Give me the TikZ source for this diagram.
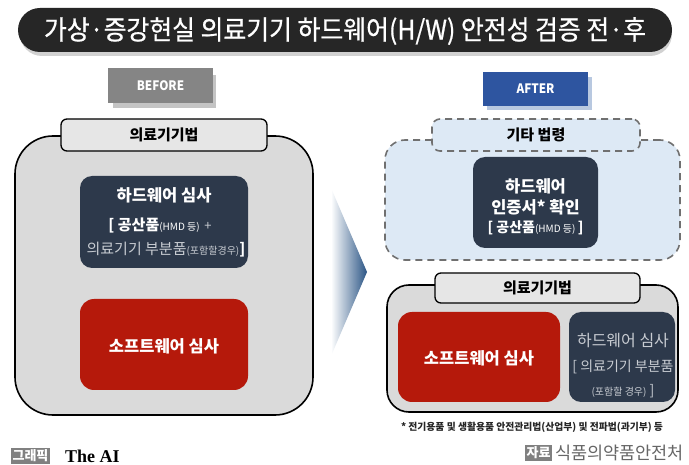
\documentclass[tikz,border=0pt]{standalone}
\usepackage{fontspec}
\setmainfont{Noto Sans CJK KR}
\newfontfamily\aiserif{Liberation Serif}
\newfontfamily\titlefont[FakeBold=0.7]{Noto Sans CJK KR}
\definecolor{titlebg}{HTML}{262626}
\definecolor{beforegray}{HTML}{858585}
\definecolor{beforeshadow}{HTML}{C4C4C4}
\definecolor{afterblue}{HTML}{2E55A0}
\definecolor{aftershadow}{HTML}{B8C8E0}
\definecolor{boxgray}{HTML}{DADADA}
\definecolor{tabgray}{HTML}{E6E6E6}
\definecolor{navy}{HTML}{2D394B}
\definecolor{redbox}{HTML}{B5190B}
\definecolor{lightblue}{HTML}{DDE9F5}
\definecolor{dashgray}{HTML}{707070}
\definecolor{arrowblue}{HTML}{2B5585}
\definecolor{softtext}{HTML}{C8CCD2}
\newcommand{\fs}[1]{\fontsize{#1}{#1}\selectfont}
\tikzset{
  lawbox/.style={draw=black, line width=1.6pt, fill=boxgray, rounded corners=#1},
  lawtab/.style={draw=black, line width=1.3pt, fill=tabgray, rounded corners=6pt, font=\fs{15}\bfseries},
  dashbox/.style={draw=dashgray, line width=1.6pt, dash pattern=on 7pt off 5pt, fill=lightblue, rounded corners=#1},
  navybox/.style={fill=navy, rounded corners=12pt},
  redfill/.style={fill=redbox, rounded corners=14pt},
  wtxt/.style={text=white, font=\fs{16.5}\bfseries, inner sep=0pt},
  stxt/.style={text=softtext, font=\fs{14}, inner sep=0pt},
}
\begin{document}
\begin{tikzpicture}[x=1pt, y=-1pt]
\useasboundingbox (0,0) rectangle (689,465);
\fill[white] (0,0) rectangle (689,465);

% title
\fill[black!18, rounded corners=22pt] (20,12) rectangle (672,56);
\node[fill=titlebg, rounded corners=22pt, minimum width=654pt, minimum height=44pt, inner sep=0pt] (title) at (345,30) {};
\node[text=white, font=\titlefont\fs{27}, inner sep=0pt] (titletext) at (345,31) {\scalebox{0.92}[1]{가상·증강현실 의료기기 하드웨어(H/W) 안전성 검증 전·후}};

% BEFORE
\fill[beforeshadow] (113,75) rectangle (216,108);
\node[fill=beforegray, minimum width=105pt, minimum height=35pt, inner sep=0pt, text=white, font=\fs{13}\bfseries] (before) at (160.5,85.5) {\scalebox{0.9}[1]{BEFORE}};

% AFTER
\fill[aftershadow] (487,77) rectangle (592,110);
\node[fill=afterblue, minimum width=105pt, minimum height=34pt, inner sep=0pt, text=white, font=\fs{13}\bfseries] (after) at (535.5,89) {\scalebox{0.9}[1]{AFTER}};

% left big box
\node[lawbox=38pt, minimum width=298pt, minimum height=279pt] (leftbox) at (164,275.5) {};
\node[lawtab, minimum width=206pt, minimum height=32pt, inner sep=0pt] (lefttab) at (164,135) {의료기기법};
\node[navybox, minimum width=168pt, minimum height=92pt] (lefthw) at (164,222) {};
\node[wtxt] (lefthw1) at (164,195) {하드웨어 심사};
\node[inner sep=0pt, text=white] (lefthw2) at (160,225) {{\fs{15}\bfseries [ 공산품}{\fs{10}(HMD 등)}\ \ {\fs{13}\color{softtext}+}};
\node[inner sep=0pt, text=softtext] (lefthw3) at (166,250) {{\fs{15}의료기기 부분품}{\fs{10}(포함할경우)}{\fs{15}\bfseries\color{white}]}};
\node[redfill, minimum width=168pt, minimum height=91pt] (leftsw) at (164,344.5) {};
\node[wtxt] (leftswt) at (164,346) {소프트웨어 심사};

% arrow
\shade[left color=white, right color=arrowblue] (331,188) -- (367,272) -- (331,356) -- cycle;

% right top dashed region
\node[dashbox=20pt, minimum width=295pt, minimum height=120pt] (other) at (532.5,200) {};
\node[dashbox=8pt, minimum width=208pt, minimum height=32pt, inner sep=0pt, font=\fs{15}\bfseries] (othertab) at (536,135) {기타 법령};
\node[navybox, minimum width=125pt, minimum height=91pt] (cert) at (535.5,202.5) {};
\node[wtxt] (cert1) at (535.5,186) {하드웨어};
\node[wtxt] (cert2) at (535.5,207) {인증서* 확인};
\node[inner sep=0pt, text=white] (cert3) at (535.5,228) {{\fs{14}\bfseries [ 공산품}{\fs{10}(HMD 등)}{\fs{14}\bfseries\,]}};

% right bottom box
\node[lawbox=22pt, minimum width=291pt, minimum height=127pt] (rightbox) at (532.5,348.5) {};
\node[lawtab, minimum width=205pt, minimum height=30pt, inner sep=0pt] (righttab) at (537.5,288) {의료기기법};
\node[redfill, minimum width=162pt, minimum height=90pt] (rightsw) at (479,357) {};
\node[wtxt] (rightswt) at (479,358) {소프트웨어 심사};
\node[navybox, minimum width=106pt, minimum height=90pt] (righthw) at (622,357) {};
\node[stxt, font=\fs{16}] (righthw1) at (623,341) {하드웨어 심사};
\node[stxt] (righthw2) at (623,367) {[ 의료기기 부분품};
\node[stxt] (righthw3) at (623,391) {{\fs{10}(포함할 경우)}\ ]};

% footnote
\node[inner sep=0pt, font=\fs{9.8}\bfseries, text=black!85] (foot) at (532,427) {* 전기용품 및 생활용품 안전관리법(산업부) 및 전파법(과기부) 등};

% credits
\node[fill=black!50, text=white, inner sep=1.5pt, font=\fs{13}\bfseries] (graphic) at (30.5,456) {그래픽};
\node[anchor=west, inner sep=0pt, font=\aiserif\fs{18}\bfseries] (theai) at (65,456) {The AI};
\node[fill=black!50, text=white, inner sep=1.5pt, font=\fs{13}\bfseries] (source) at (538.5,453) {자료};
\node[anchor=west, inner sep=0pt, text=black!60, font=\fs{17.5}] (kfda) at (555,453) {식품의약품안전처};
\end{tikzpicture}
\end{document}
